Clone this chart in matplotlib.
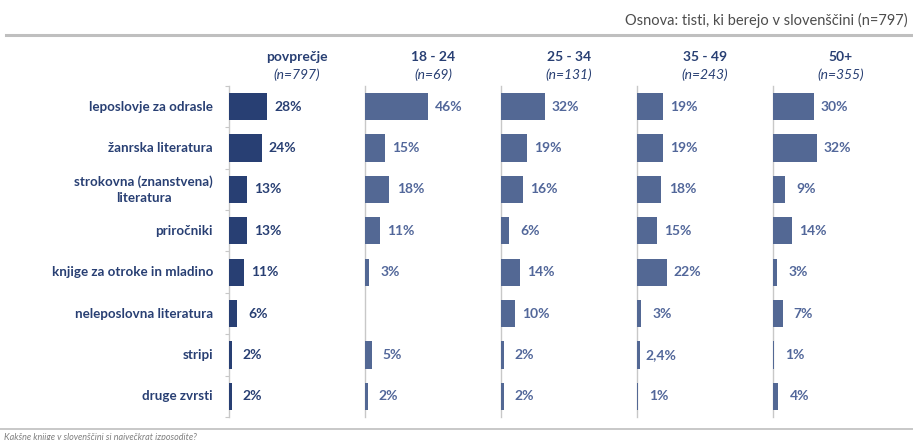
import numpy as np
import matplotlib.pyplot as plt

plt.rcParams['font.family'] = ['Lato', 'DejaVu Sans']

categories = ["leposlovje za odrasle", "žanrska literatura", "strokovna (znanstvena)\nliteratura",
              "priročniki", "knjige za otroke in mladino", "neleposlovna literatura", "stripi", "druge zvrsti"]
groups = ["povprečje", "18 - 24", "25 - 34", "35 - 49", "50+"]
group_n = ["(n=797)", "(n=69)", "(n=131)", "(n=243)", "(n=355)"]

avg = [28, 24, 13, 13, 11, 6, 2, 2]
age_18_24 = [46, 15, 18, 11, 3, np.nan, 5, 2]
age_25_34 = [32, 19, 16, 6, 14, 10, 2, 2]
age_35_49 = [19, 19, 18, 15, 22, 3, 2.4, 1]
age_50 = [30, 32, 9, 14, 3, 7, 1, 4]

NAVY = '#283f73'
BLUE = '#536894'
TXT2 = '#52679a'
GRID = '#c8c8c8'

W, H = 913, 440


def fmt(v):
	if v == int(v):
		return "%d%%" % v
	return ("%.1f%%" % v).replace('.', ',')


def panel(fig, i, vals, color, txtcolor):
	left = (229 + 136 * i) / W
	ax = fig.add_axes([left, 1 - 417 / H, 136 / W, 331 / H])
	y = np.arange(len(vals))
	ax.barh(y, vals, height=0.66, color=color, linewidth=0, zorder=3)
	for yi, v in zip(y, vals):
		if np.isnan(v):
			continue
		ax.annotate(fmt(v), xy=(v, yi), xytext=(15, 0), textcoords='offset points',
		            ha='center', va='center', fontsize=10, fontweight='bold', color=txtcolor)
	ax.set_xlim(0, 100)
	ax.set_ylim(len(vals) - 0.5, -0.5)
	for s in ['top', 'right', 'bottom']:
		ax.spines[s].set_visible(False)
	ax.spines['left'].set_color(GRID)
	ax.spines['left'].set_linewidth(1.0)
	ax.spines['left'].set_zorder(1)
	ax.set_xticks([])
	if i == 0:
		ax.set_yticks(np.arange(len(vals) + 1) - 0.5)
		ax.set_yticklabels([])
		ax.tick_params(axis='y', length=3, color=GRID, direction='out')
		for yi, c in zip(y, categories):
			ax.annotate(c, xy=(0, yi), xytext=(-11.5, 0), textcoords='offset points',
			            ha='right', va='center', multialignment='center', linespacing=1.35,
			            fontsize=9.6, fontweight='bold', color=NAVY)
	else:
		ax.set_yticks([])
	# column header
	ax.text(0.5, 1 + 29 / 331, groups[i], transform=ax.transAxes, ha='center', va='center',
	        fontsize=10, fontweight='bold', color=NAVY)
	ax.text(0.5, 1 + 11 / 331, group_n[i], transform=ax.transAxes, ha='center', va='center',
	        fontsize=10, style='italic', color=NAVY)
	return ax


fig = plt.figure(figsize=(W / 100, H / 100), dpi=100)

series = [avg, age_18_24, age_25_34, age_35_49, age_50]
for i, vals in enumerate(series):
	if i == 0:
		panel(fig, i, np.array(vals, dtype=float), NAVY, NAVY)
	else:
		panel(fig, i, np.array(vals, dtype=float), BLUE, TXT2)

fig.text(908 / W, 1 - 20 / H, "Osnova: tisti, ki berejo v slovenščini (n=797)", ha='right', va='center',
         fontsize=10.5, color='#4d4d4d')
fig.add_artist(plt.Line2D([6 / W, 1], [1 - 35 / H, 1 - 35 / H], color='#bfbfbf', linewidth=2.2))
fig.add_artist(plt.Line2D([0, 1], [1 - 429 / H, 1 - 429 / H], color='#bfbfbf', linewidth=1.2))
fig.text(4 / W, 1 - 437 / H, "Kakšne knjige v slovenščini si največkrat izposodite?", ha='left', va='center',
         fontsize=6.5, style='italic', color='#7f7f7f')

fig.savefig('out.png', dpi=100)
